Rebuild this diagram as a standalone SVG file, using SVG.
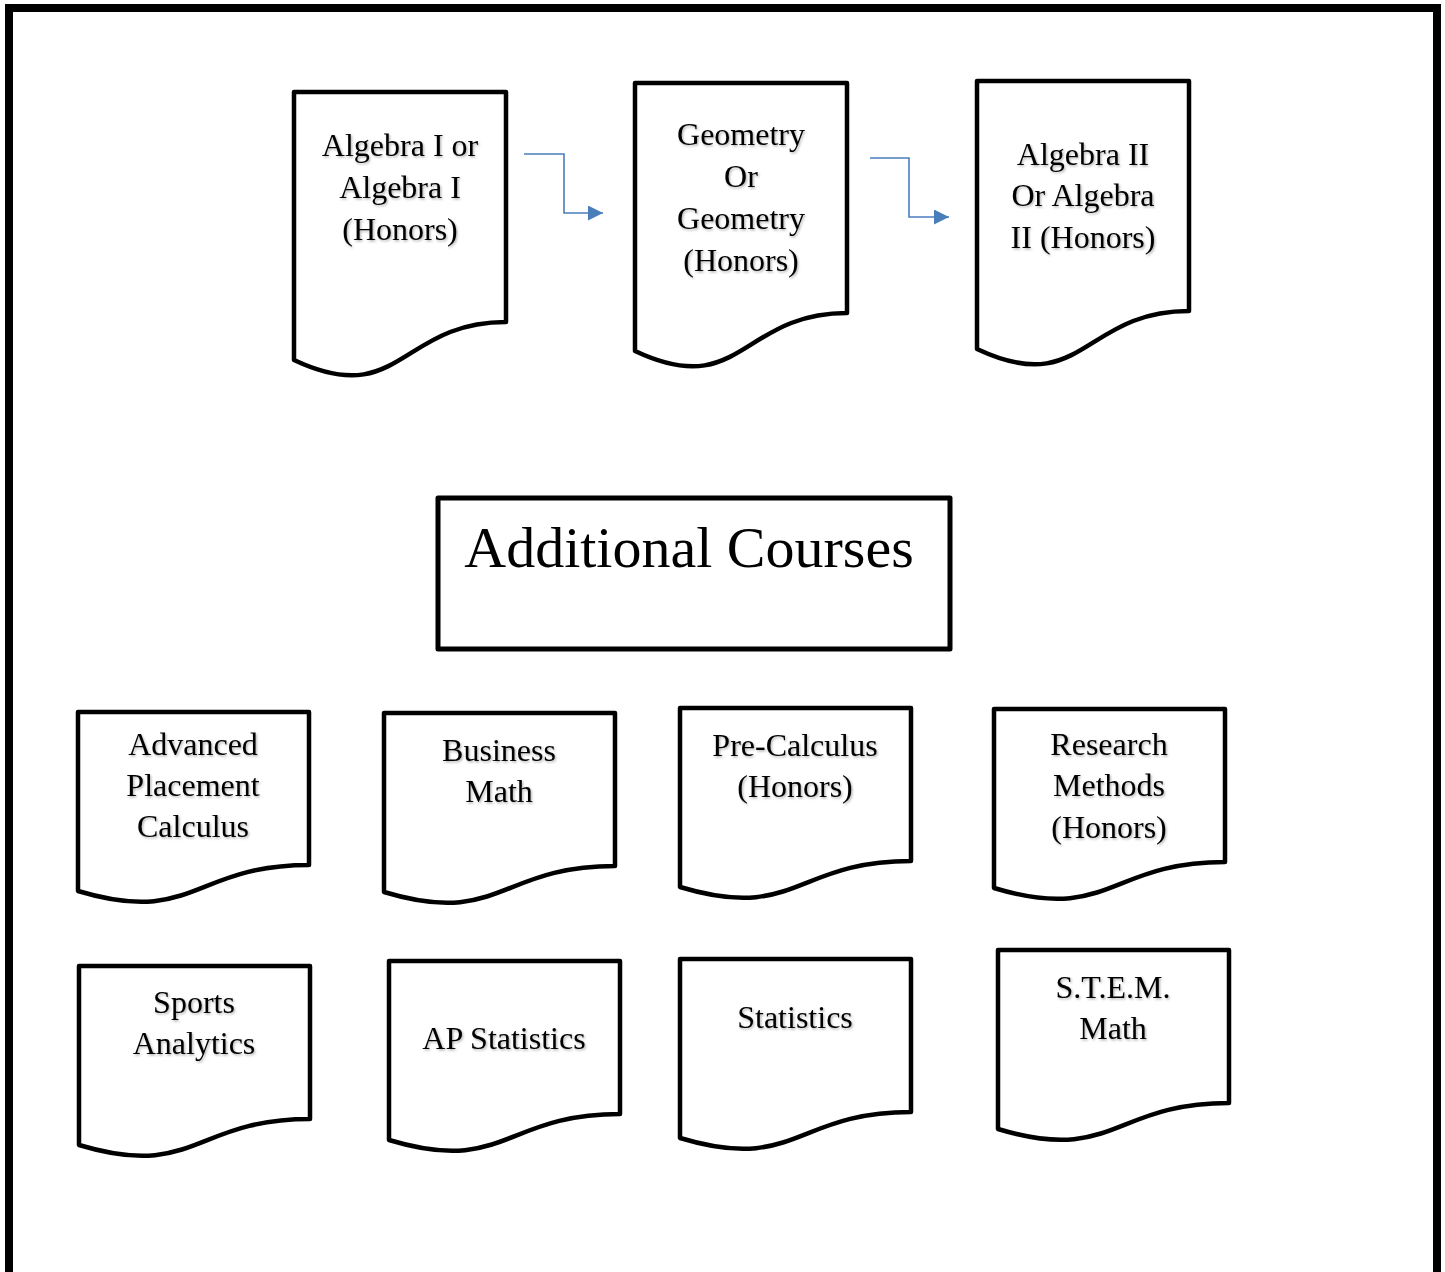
<svg xmlns="http://www.w3.org/2000/svg" width="1445" height="1272" viewBox="0 0 1445 1272">
<style>
.doc{fill:#fff;stroke:#000;stroke-width:4.5;stroke-linejoin:round}
.t{font-family:"Liberation Serif","Times New Roman",serif;font-size:32px;fill:#000;text-anchor:middle;filter:url(#sh)}
.big{font-family:"Liberation Serif","Times New Roman",serif;font-size:58px;fill:#000;text-anchor:middle}
.conn{fill:none;stroke:#4a7ebb;stroke-width:1.6}
</style>
<defs>
<filter id="sh" x="-10%" y="-20%" width="120%" height="150%">
<feDropShadow dx="1.2" dy="1.5" stdDeviation="1" flood-color="#000" flood-opacity="0.3"/>
</filter>
<marker id="ah2" viewBox="0 0 15 15" refX="15" refY="7.5" markerWidth="15" markerHeight="15" orient="auto" markerUnits="userSpaceOnUse">
<path d="M0,0 L15,7.5 L0,15 Z" fill="#4a7ebb"/>
</marker>
</defs>
<rect x="0" y="0" width="1445" height="1272" fill="#fff"/>
<rect id="frame" x="9" y="8" width="1428" height="1290" fill="none" stroke="#000" stroke-width="8"/>

<g id="connectors">
<path class="conn" d="M524,154 H564 V213 H603" marker-end="url(#ah2)"/>
<path class="conn" d="M870,158 H909 V217 H949" marker-end="url(#ah2)"/>
</g>

<g id="algebra1">
<path class="doc" d="M294,92 H506 V322 C400,322 400,410 294,360 Z"/>
<text class="t" x="400" y="156">Algebra I or</text>
<text class="t" x="400" y="198">Algebra I</text>
<text class="t" x="400" y="240">(Honors)</text>
</g>
<g id="geometry">
<path class="doc" d="M635,83 H847 V313 C741,313 741,401 635,351 Z"/>
<text class="t" x="741" y="145">Geometry</text>
<text class="t" x="741" y="187">Or</text>
<text class="t" x="741" y="229">Geometry</text>
<text class="t" x="741" y="271">(Honors)</text>
</g>
<g id="algebra2">
<path class="doc" d="M977,81 H1189 V311 C1083,311 1083,399 977,349 Z"/>
<text class="t" x="1083" y="165">Algebra II</text>
<text class="t" x="1083" y="206">Or Algebra</text>
<text class="t" x="1083" y="248">II (Honors)</text>
</g>

<g id="additional">
<rect x="438" y="498" width="512" height="151" fill="#fff" stroke="#000" stroke-width="5" stroke-linejoin="round"/>
<text class="big" x="689" y="567">Additional Courses</text>
</g>

<g id="apcalc">
<path class="doc" d="M78,712 H309 V865 C193.5,865 193.5,926 78,891 Z"/>
<text class="t" x="193" y="755">Advanced</text>
<text class="t" x="193" y="796">Placement</text>
<text class="t" x="193" y="837">Calculus</text>
</g>
<g id="business">
<path class="doc" d="M384,713 H615 V866 C499.5,866 499.5,927 384,892 Z"/>
<text class="t" x="499" y="761">Business</text>
<text class="t" x="499" y="802">Math</text>
</g>
<g id="precalc">
<path class="doc" d="M680,708 H911 V861 C795.5,861 795.5,922 680,887 Z"/>
<text class="t" x="795" y="756">Pre-Calculus</text>
<text class="t" x="795" y="797">(Honors)</text>
</g>
<g id="research">
<path class="doc" d="M994,709 H1225 V862 C1109.5,862 1109.5,923 994,888 Z"/>
<text class="t" x="1109" y="755">Research</text>
<text class="t" x="1109" y="796">Methods</text>
<text class="t" x="1109" y="838">(Honors)</text>
</g>
<g id="sports">
<path class="doc" d="M79,966 H310 V1119 C194.5,1119 194.5,1180 79,1145 Z"/>
<text class="t" x="194" y="1013">Sports</text>
<text class="t" x="194" y="1054">Analytics</text>
</g>
<g id="apstats">
<path class="doc" d="M389,961 H620 V1114 C504.5,1114 504.5,1175 389,1140 Z"/>
<text class="t" x="504" y="1049">AP Statistics</text>
</g>
<g id="stats">
<path class="doc" d="M680,959 H911 V1112 C795.5,1112 795.5,1173 680,1138 Z"/>
<text class="t" x="795" y="1028">Statistics</text>
</g>
<g id="stem">
<path class="doc" d="M998,950 H1229 V1103 C1113.5,1103 1113.5,1164 998,1129 Z"/>
<text class="t" x="1113" y="998">S.T.E.M.</text>
<text class="t" x="1113" y="1039">Math</text>
</g>
</svg>
